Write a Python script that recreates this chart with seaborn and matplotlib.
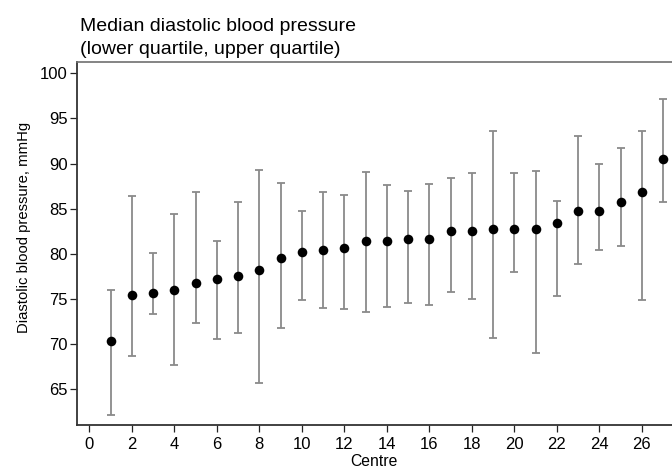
import matplotlib
matplotlib.use("Agg")
import matplotlib.pyplot as plt
import seaborn as sns
import numpy as np
import pandas as pd

centre = list(range(1, 28))
median = [70.4, 75.5, 75.7, 76.0, 76.8, 77.2, 77.6, 78.2, 79.5, 80.2, 80.4, 80.7,
          81.4, 81.4, 81.6, 81.7, 82.5, 82.5, 82.7, 82.8, 82.8, 83.4, 84.8, 84.8,
          85.7, 86.9, 90.5]
lower_q = [62.2, 68.7, 73.3, 67.7, 72.3, 70.6, 71.2, 65.7, 71.8, 74.9, 74.0, 73.9,
           73.6, 74.1, 74.6, 74.3, 75.8, 75.0, 70.7, 78.0, 69.0, 75.3, 78.9, 80.4,
           80.9, 74.9, 85.7]
upper_q = [76.0, 86.4, 80.1, 84.4, 86.8, 81.4, 85.7, 89.3, 87.8, 84.7, 86.9, 86.5,
           89.1, 87.6, 87.0, 87.7, 88.4, 89.0, 93.6, 88.9, 89.2, 85.9, 93.1, 90.0,
           91.7, 93.6, 97.1]

xticks = list(range(0, 27, 2))
yticks = list(range(65, 101, 5))

df = pd.DataFrame({"Centre": centre, "median": median, "lo": lower_q, "hi": upper_q})

sns.set_theme(style="white")
plt.rcParams["font.family"] = ["Liberation Sans", "DejaVu Sans"]
plt.rcParams["text.color"] = "black"
plt.rcParams["axes.labelcolor"] = "black"

fig = plt.figure(figsize=(6.72, 4.68), dpi=100)
ax = fig.add_axes([77.3 / 672, 1 - 425 / 468, (672 - 77.3) / 672, (425 - 61.7) / 468])

err = np.vstack([df["median"] - df["lo"], df["hi"] - df["median"]])
ax.errorbar(df["Centre"], df["median"], yerr=err, fmt="none", ecolor="#8a8a8a",
            elinewidth=1.3, capsize=2.8, capthick=1.3, zorder=1)
sns.scatterplot(data=df, x="Centre", y="median", color="black", s=48,
                edgecolor="black", linewidth=0, ax=ax, zorder=3)

ax.set_xlim(-0.565, 27.42)
ax.set_ylim(61.05, 101.28)
ax.set_xticks(xticks)
ax.set_yticks(yticks)
ax.tick_params(axis="both", direction="out", length=5.3, width=0.9, color="#222222",
               labelsize=12, bottom=True, left=True, labelcolor="black")
ax.tick_params(axis="x", pad=3.4)
ax.tick_params(axis="y", pad=1.4)
for s in ["left", "bottom"]:
    ax.spines[s].set_color("#333333")
    ax.spines[s].set_linewidth(1.3)
ax.spines["top"].set_color("#707070")
ax.spines["top"].set_linewidth(1.2)
ax.spines["right"].set_visible(False)

ax.set_xlabel("Centre", fontsize=11.3)
ax.xaxis.set_label_coords(0.498, -0.080)
ax.set_ylabel("Diastolic blood pressure, mmHg", fontsize=10.7)
ax.yaxis.set_label_coords(-0.078, 0.544)

fig.text(80 / 672, 1 - 31 / 468, "Median diastolic blood pressure", fontsize=14,
         ha="left", va="baseline")
fig.text(80 / 672, 1 - 53.5 / 468, "(lower quartile, upper quartile)", fontsize=14,
         ha="left", va="baseline")

fig.savefig("out.png", dpi=100)
